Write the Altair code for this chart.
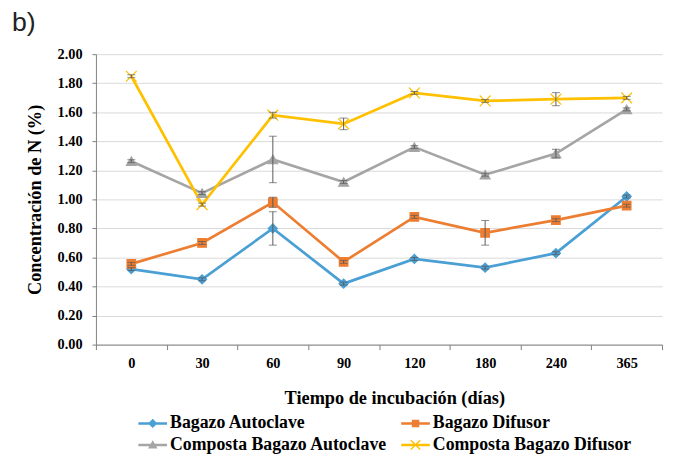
import altair as alt
import pandas as pd

days = ["0", "30", "60", "90", "120", "180", "240", "365"]
series = ["Bagazo Autoclave", "Bagazo Difusor",
          "Composta Bagazo Autoclave", "Composta Bagazo Difusor"]

bagazo_autoclave = [0.52, 0.45, 0.80, 0.42, 0.59, 0.53, 0.63, 1.02]
bagazo_autoclave_err = [0.01, 0.01, 0.115, 0.01, 0.01, 0.01, 0.01, 0.01]
bagazo_difusor = [0.556, 0.70, 0.98, 0.57, 0.88, 0.77, 0.857, 0.957]
bagazo_difusor_err = [0.01, 0.01, 0.035, 0.01, 0.01, 0.085, 0.01, 0.01]
composta_autoclave = [1.263, 1.043, 1.275, 1.12, 1.36, 1.17, 1.315, 1.62]
composta_autoclave_err = [0.01, 0.01, 0.16, 0.01, 0.01, 0.01, 0.03, 0.01]
composta_difusor = [1.848, 0.964, 1.58, 1.52, 1.733, 1.678, 1.69, 1.699]
composta_difusor_err = [0.01, 0.01, 0.02, 0.04, 0.01, 0.01, 0.045, 0.01]

colors = ["#4A9FD4", "#ED7D31", "#A5A5A5", "#FFC000"]
y_ticks = [0.0, 0.2, 0.4, 0.6, 0.8, 1.0, 1.2, 1.4, 1.6, 1.8, 2.0]

values = [bagazo_autoclave, bagazo_difusor, composta_autoclave, composta_difusor]
errors = [bagazo_autoclave_err, bagazo_difusor_err, composta_autoclave_err, composta_difusor_err]

rows = []
for s, vals, errs in zip(series, values, errors):
    for d, v, e in zip(days, vals, errs):
        rows.append({"day": d, "series": s, "value": v, "lo": v - e, "hi": v + e})
df = pd.DataFrame(rows)

# marker shapes for the chart
marker_shapes = ["diamond", "square", "triangle-up", "M-1,-1L1,1M-1,1L1,-1"]
marker_sizes = [85, 75, 100, 120]

# legend symbols: line segment + marker (path a little wider than its box)
line_seg = "M-1.16,-0.1H1.16V0.1H-1.16Z"
legend_shapes = [
    line_seg + "M0,-0.38L0.38,0L0,0.38L-0.38,0Z",
    line_seg + "M-0.3,-0.3H0.3V0.3H-0.3Z",
    line_seg + "M0,-0.38L0.38,0.3H-0.38Z",
    line_seg + "M-0.34,-0.42L0.42,0.34L0.34,0.42L-0.42,-0.34Z"
             + "M-0.42,0.34L0.34,-0.42L0.42,-0.34L-0.34,0.42Z",
]
# legend fills column by column: reorder so rows read like the reference
legend_order = [0, 2, 1, 3]
legend_domain = [series[i] for i in legend_order]
legend_colors = [colors[i] for i in legend_order]
legend_symbols = [legend_shapes[i] for i in legend_order]

serif = "Liberation Serif"
axis_color = "#808080"

x_enc = alt.X(
    "day:N", sort=days,
    scale=alt.Scale(type="band", paddingInner=0, paddingOuter=0),
    axis=alt.Axis(
        title="Tiempo de incubación (días)", labelAngle=0, grid=False,
        tickBand="extent", tickSize=5, tickColor=axis_color, domainColor=axis_color,
        labelFont=serif, labelFontWeight="bold", labelFontSize=14.5, labelColor="black",
        labelPadding=7,
        titleFont=serif, titleFontWeight="bold", titleFontSize=18.5, titleColor="black",
        titleX=302, titleY=54, titleBaseline="middle",
    ),
)
y_axis = alt.Axis(
    values=y_ticks, format=".2f", title="Concentración de N (%)",
    tickSize=4, tickColor=axis_color, domainColor=axis_color,
    gridColor="#d9d9d9", labelPadding=10, labelOverlap=False,
    labelFont=serif, labelFontWeight="bold", labelFontSize=14.5, labelColor="black",
    titleFont=serif, titleFontWeight="bold", titleFontSize=18.5, titleColor="black",
    titleX=-62, titleY=147, titleBaseline="middle",
)
y_scale = alt.Scale(domain=[0, 2], nice=False)
y_enc = alt.Y("value:Q", scale=y_scale, axis=y_axis)

base = alt.Chart(df)

lines = base.mark_line(strokeWidth=2.7).encode(
    x=x_enc, y=y_enc,
    stroke=alt.Stroke("series:N", scale=alt.Scale(domain=series, range=colors), legend=None),
)

marker_layers = []
for s, shp, sz, col in zip(series, marker_shapes, marker_sizes, colors):
    marker_layers.append(
        base.transform_filter(alt.datum.series == s).mark_point(
            filled=True, shape=shp, size=sz, fill=col, stroke=col,
            strokeWidth=1.2, opacity=1,
        ).encode(x=x_enc, y=y_enc)
    )

err_rule = base.mark_rule(color="#595959", strokeWidth=1).encode(
    x=x_enc, y=alt.Y("lo:Q", scale=y_scale, axis=y_axis), y2="hi:Q",
)
cap_lo = base.mark_tick(color="#595959", thickness=1, size=8, orient="horizontal").encode(
    x=x_enc, y=alt.Y("lo:Q", scale=y_scale, axis=y_axis),
)
cap_hi = base.mark_tick(color="#595959", thickness=1, size=8, orient="horizontal").encode(
    x=x_enc, y=alt.Y("hi:Q", scale=y_scale, axis=y_axis),
)

legend_def = alt.Legend(
    orient="none", legendX=45, legendY=361, columns=2,
    title=None,
    labelFont=serif, labelFontWeight="bold", labelFontSize=18, labelColor="black",
    labelLimit=400, labelOffset=5, symbolSize=625, symbolOpacity=1,
    symbolStrokeWidth=0, columnPadding=14, rowPadding=-11,
)

legend_layer = base.transform_filter("false").mark_point(filled=True).encode(
    x=x_enc, y=y_enc,
    color=alt.Color("series:N", scale=alt.Scale(domain=legend_domain, range=legend_colors),
                    legend=legend_def),
    shape=alt.Shape("series:N", scale=alt.Scale(domain=legend_domain, range=legend_symbols),
                    legend=legend_def),
)

chart = alt.layer(lines, *marker_layers, err_rule, cap_lo, cap_hi, legend_layer).properties(
    width=573, height=294,
    autosize=alt.AutoSizeParams(type="none"),
    padding={"left": 89, "top": 44, "right": 4, "bottom": 110},
    background="white",
    title=alt.TitleParams(
        text="b)", anchor="start", frame="group", dx=-85, offset=20, dy=32,
        baseline="alphabetic", font="Liberation Sans", fontSize=27,
        fontWeight="normal", color="#222222",
    ),
).configure_view(stroke=None)

chart.save("out.html", embed_options={"renderer": "svg", "actions": False})
